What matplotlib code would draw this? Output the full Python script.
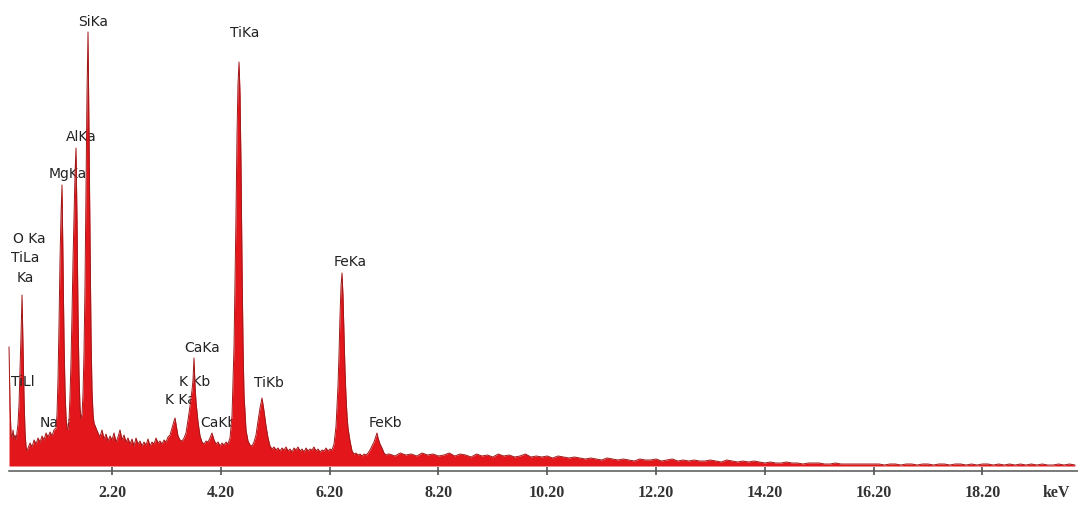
import numpy as np
import matplotlib
matplotlib.use("Agg")
import matplotlib.pyplot as plt

# ---------------- data ----------------
energy_kev = [
    0.307, 0.325, 0.344, 0.362, 0.381, 0.399, 0.417, 0.436, 0.454, 0.472,
    0.491, 0.509, 0.528, 0.546, 0.564, 0.583, 0.601, 0.620, 0.638, 0.656,
    0.693, 0.730, 0.767, 0.803, 0.840, 0.877, 0.914, 0.950, 0.987, 1.024,
    1.061, 1.097, 1.134, 1.171, 1.189, 1.208, 1.226, 1.244, 1.263, 1.281,
    1.299, 1.318, 1.336, 1.355, 1.373, 1.391, 1.410, 1.428, 1.446, 1.465,
    1.483, 1.502, 1.520, 1.538, 1.557, 1.575, 1.593, 1.612, 1.630, 1.649,
    1.667, 1.685, 1.704, 1.722, 1.740, 1.759, 1.777, 1.796, 1.814, 1.832,
    1.851, 1.869, 1.906, 1.943, 1.979, 2.016, 2.053, 2.090, 2.126, 2.163,
    2.200, 2.237, 2.274, 2.310, 2.347, 2.384, 2.421, 2.457, 2.494, 2.531,
    2.568, 2.604, 2.641, 2.678, 2.715, 2.751, 2.788, 2.825, 2.862, 2.899,
    2.935, 2.972, 3.009, 3.046, 3.082, 3.119, 3.156, 3.193, 3.229, 3.266,
    3.303, 3.340, 3.358, 3.376, 3.413, 3.450, 3.487, 3.524, 3.560, 3.597,
    3.634, 3.671, 3.689, 3.707, 3.726, 3.744, 3.781, 3.818, 3.854, 3.891,
    3.928, 3.965, 4.001, 4.038, 4.075, 4.112, 4.149, 4.185, 4.222, 4.259,
    4.296, 4.332, 4.369, 4.406, 4.443, 4.479, 4.498, 4.516, 4.535, 4.553,
    4.571, 4.590, 4.608, 4.626, 4.663, 4.700, 4.737, 4.774, 4.810, 4.847,
    4.884, 4.921, 4.957, 4.994, 5.031, 5.068, 5.104, 5.141, 5.178, 5.215,
    5.251, 5.288, 5.325, 5.362, 5.399, 5.435, 5.472, 5.509, 5.546, 5.582,
    5.619, 5.656, 5.693, 5.729, 5.766, 5.803, 5.840, 5.876, 5.913, 5.950,
    5.987, 6.024, 6.060, 6.097, 6.134, 6.171, 6.207, 6.244, 6.281, 6.318,
    6.354, 6.373, 6.391, 6.410, 6.428, 6.446, 6.465, 6.483, 6.501, 6.520,
    6.538, 6.575, 6.612, 6.649, 6.685, 6.722, 6.759, 6.796, 6.832, 6.869,
    6.906, 6.943, 6.979, 7.016, 7.053, 7.071, 7.090, 7.126, 7.163, 7.200,
    7.237, 7.274,
]
counts = [
    119, 60, 32, 28, 36, 27, 31, 26, 34, 42,
    62, 96, 132, 171, 118, 68, 34, 19, 15, 18,
    23, 19, 26, 22, 28, 24, 30, 26, 33, 29,
    34, 30, 36, 38, 52, 88, 142, 205, 252, 281,
    205, 125, 76, 48, 38, 36, 46, 70, 104, 152,
    205, 252, 292, 318, 245, 152, 92, 58, 47, 52,
    72, 112, 182, 282, 372, 434, 332, 222, 132, 76,
    52, 43, 38, 33, 29, 36, 27, 32, 25, 30,
    26, 33, 24, 29, 36, 26, 31, 24, 28, 22,
    27, 20, 28, 22, 25, 20, 24, 21, 27, 20,
    24, 22, 28, 23, 25, 22, 26, 24, 29, 31,
    38, 45, 48, 42, 30, 26, 25, 28, 33, 46,
    60, 76, 86, 108, 80, 64, 44, 30, 24, 22,
    25, 24, 28, 33, 26, 22, 24, 20, 23, 21,
    24, 22, 28, 50, 120, 250, 332, 382, 404, 372,
    302, 202, 122, 72, 36, 25, 21, 20, 24, 31,
    45, 58, 68, 55, 40, 28, 20, 17, 19, 16,
    18, 15, 18, 16, 19, 15, 17, 14, 18, 16,
    19, 15, 17, 14, 18, 15, 17, 16, 19, 15,
    17, 14, 16, 15, 18, 15, 17, 16, 22, 40,
    80, 112, 150, 180, 193, 170, 130, 95, 70, 50,
    38, 25, 15, 12, 13, 11, 12, 10, 12, 11,
    13, 16, 20, 24, 30, 33, 28, 22, 18, 13,
    11, 12,
]
# high-energy tail, one channel every 0.1 keV from 7.3 to 19.9 keV
tail_counts = [
    12, 10, 13, 11, 12, 10, 13, 11,
    12, 10, 11, 13, 10, 12, 11, 9, 12, 10,
    11, 9, 12, 10, 11, 9, 10, 12, 9, 10,
    9, 10, 8, 10, 9, 8, 9, 8, 7, 8,
    7, 6, 8, 7, 6, 7, 6, 5, 7, 6,
    6, 7, 5, 6, 7, 5, 6, 5, 6, 5,
    5, 6, 5, 4, 6, 5, 4, 5, 4, 5,
    4, 3, 4, 3, 3, 4, 3, 3, 2, 3,
    3, 3, 2, 2, 3, 2, 2, 2, 2, 2,
    2, 2, 2, 1, 2, 2, 1, 2, 2, 1,
    2, 2, 1, 2, 2, 1, 2, 2, 1, 2,
    1, 2, 2, 1, 2, 1, 2, 1, 2, 1,
    2, 1, 2, 1, 1, 2, 1, 2, 1,
]
tail_energy_kev = np.round(7.3 + 0.1 * np.arange(len(tail_counts)), 2)

peak_labels = ["SiKa", "TiKa", "AlKa", "MgKa", "O Ka", "TiLa", "Ka", "TiLl",
               "NaKa", "CaKa", "K Kb", "K Ka", "CaKb", "TiKb", "FeKa", "FeKb"]

tick_values = [2.2, 4.2, 6.2, 8.2, 10.2, 12.2, 14.2, 16.2, 18.2]
tick_labels = ["2.20", "4.20", "6.20", "8.20", "10.20", "12.20",
               "14.20", "16.20", "18.20"]
axis_unit = "keV"

# ---------------- layout ----------------
label_xy = [(1.851, 444), (4.645, 433), (1.630, 329), (1.391, 292),
            (0.674, 227), (0.601, 208), (0.601, 188), (0.560, 84),
            (1.207, 43), (3.854, 118), (3.717, 84), (3.450, 66),
            (4.149, 43), (5.086, 83), (6.575, 204), (7.218, 43)]
labels_on_top = {"TiLl"}

E = np.concatenate([np.array(energy_kev), tail_energy_kev])
C = np.concatenate([np.array(counts, float), np.array(tail_counts, float)])

fig = plt.figure(figsize=(10.78, 5.08), dpi=100)
fig.patch.set_facecolor("white")
ax = fig.add_axes([0, 0, 1, 1])
ax.set_xlim(0.1412, 19.957)
ax.set_ylim(-42, 466)

ax.fill_between(E, C, 0, color="#e3161c", lw=0, zorder=3)
ax.plot(E, C, color="#a01818", lw=0.7, zorder=4)

for txt, (x, y) in zip(peak_labels, label_xy):
    ax.text(x, y, txt, ha="center", va="center", fontsize=10,
            family="DejaVu Sans", color="#222222",
            zorder=6 if txt in labels_on_top else 2)

for s in ["left", "right", "top"]:
    ax.spines[s].set_visible(False)
ax.spines["bottom"].set_position(("data", -5))
ax.spines["bottom"].set_bounds(0.307, 19.957)
ax.spines["bottom"].set_color("#555555")
ax.spines["bottom"].set_linewidth(1.1)
ax.set_yticks([])
ax.set_xticks(tick_values)
ax.set_xticklabels(tick_labels)
ax.tick_params(axis="x", direction="inout", length=6, width=1.1,
               color="#444444", pad=7, labelsize=11.5, labelcolor="#333333")
for lbl in ax.get_xticklabels():
    lbl.set_fontfamily("Liberation Serif")
    lbl.set_fontweight("bold")

ax.text(1056 / 1078, 1 - 493 / 508, axis_unit, transform=ax.transAxes,
        ha="center", va="center", fontsize=11.5, family="Liberation Serif",
        fontweight="bold", color="#333333")

fig.savefig("out.png", dpi=100, facecolor="white")
